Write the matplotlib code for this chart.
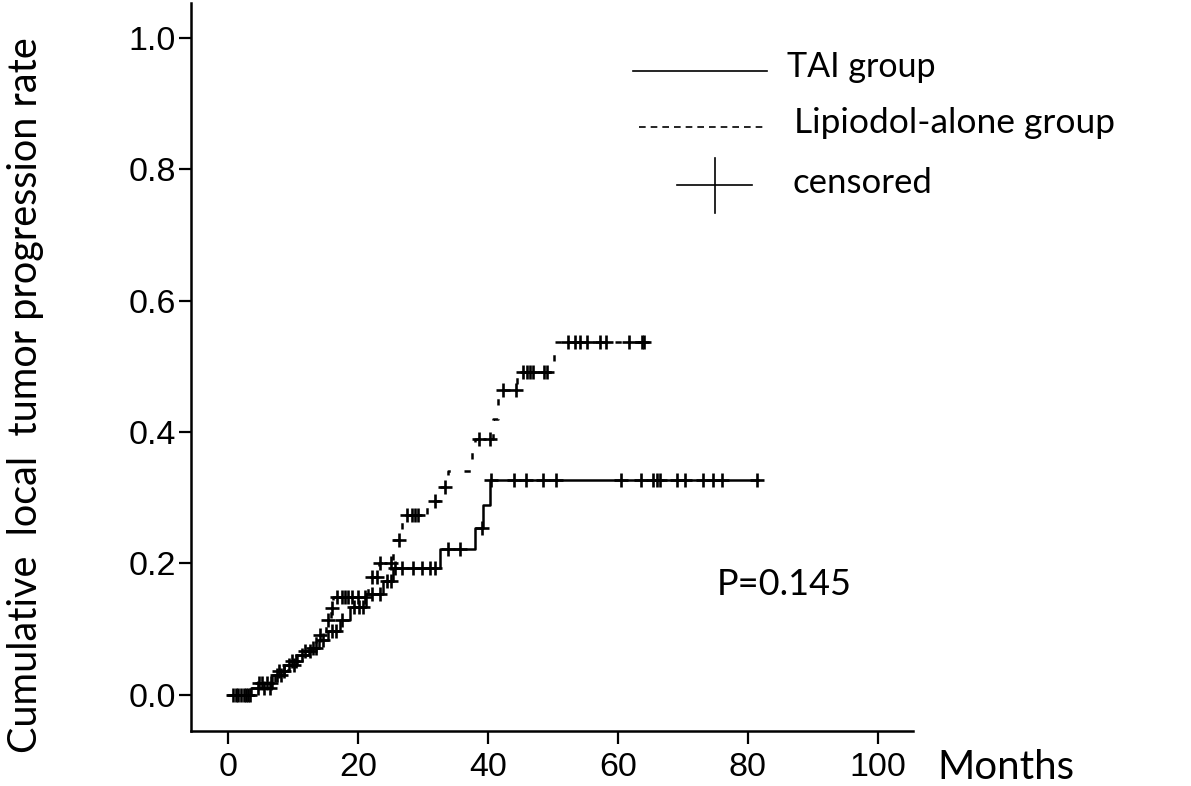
import numpy as np
import matplotlib
matplotlib.use("Agg")
import matplotlib.pyplot as plt
from matplotlib.lines import Line2D

W, H = 1191, 786

# step points (time in months, cumulative rate after that time)
tai_times = [0, 3.6, 6.8, 8.6, 10.6, 12.4, 14.0, 15.4, 17.2, 18.8, 21.2,
             23.8, 25.4, 32.6, 38.0, 39.3, 40.3]
tai_rates = [0.0, 0.011, 0.030, 0.045, 0.060, 0.072, 0.084, 0.097, 0.114,
             0.134, 0.153, 0.173, 0.193, 0.222, 0.254, 0.289, 0.327]
tai_end = 81.5
tai_censored = [0.8, 1.6, 2.4, 3.0, 4.6, 5.6, 6.4, 7.6, 8.2, 9.4, 10.2, 11.4,
                13.0, 13.6, 14.6, 16.0, 16.6, 17.6, 19.4, 20.2, 20.8, 22.2,
                23.4, 24.4, 25.0, 25.7, 26.8, 28.5, 29.8, 31.1, 31.8, 33.8,
                35.7, 39.1, 40.5, 44.0, 45.8, 48.5, 50.5, 60.5, 63.5, 65.4,
                66.0, 66.5, 69.1, 70.3, 73.1, 74.6, 76.0, 81.4]

lip_times = [0, 4.4, 7.2, 9.2, 11.0, 13.6, 15.0, 15.8, 16.2, 21.6, 22.0, 23.2,
             25.4, 26.8, 30.6, 32.4, 33.8, 37.6, 38.0, 40.8, 41.6, 44.5, 50.2]
lip_rates = [0.0, 0.018, 0.037, 0.052, 0.067, 0.091, 0.114, 0.132, 0.149,
             0.165, 0.180, 0.200, 0.236, 0.274, 0.295, 0.317, 0.341, 0.370,
             0.390, 0.420, 0.464, 0.492, 0.537]
lip_end = 64.8
lip_censored = [1.2, 2.0, 2.8, 3.4, 4.8, 5.2, 6.0, 6.6, 7.8, 8.6, 9.8, 10.4,
                11.8, 12.6, 14.2, 15.4, 16.0, 16.8, 17.5, 18.0, 18.5, 19.1,
                20.0, 21.0, 22.2, 22.9, 23.4, 25.0, 26.3, 27.5, 28.3, 28.8,
                29.2, 31.8, 33.4, 38.6, 40.3, 42.3, 44.3, 45.4, 46.0, 46.5,
                46.9, 48.6, 49.1, 52.3, 53.4, 54.2, 55.2, 57.2, 58.2, 61.7,
                63.7, 64.0]

x_ticks = [0, 20, 40, 60, 80, 100]
y_ticks = [0.0, 0.2, 0.4, 0.6, 0.8, 1.0]

TEXT_FONT = ["Lato", "DejaVu Sans"]
TICK_FONT = ["Liberation Sans", "DejaVu Sans"]


def fx(px):
    return px / W


def fy(py):
    return 1 - py / H


def step_value(times, rates, t):
    i = np.searchsorted(times, t, side="right") - 1
    return np.array(rates)[i]


fig = plt.figure(figsize=(W / 100, H / 100), dpi=100)
ax = fig.add_axes([fx(191), fy(731), fx(913) - fx(191), fy(3) - fy(731)])

# curves
for times, rates, end, cens, ls in [
    (tai_times, tai_rates, tai_end, tai_censored, "-"),
    (lip_times, lip_rates, lip_end, lip_censored, (0, (2.5, 5.5))),
]:
    xs = list(times) + [end]
    ys = list(rates) + [rates[-1]]
    ax.step(xs, ys, where="post", color="black", lw=1.8, linestyle=ls)
    cy = step_value(times, rates, np.array(cens))
    ax.plot(cens, cy, linestyle="none", marker="+", color="black",
            markersize=10, markeredgewidth=1.9)

ax.set_xlim(-5.7, 105.4)
ax.set_ylim(-0.055, 1.053)
ax.set_xticks(x_ticks)
ax.set_yticks(y_ticks)
ax.set_xticklabels([str(t) for t in x_ticks])
ax.set_yticklabels([f"{t:.1f}" for t in y_ticks])

for s in ["top", "right"]:
    ax.spines[s].set_visible(False)
for s in ["left", "bottom"]:
    ax.spines[s].set_linewidth(1.8)

ax.tick_params(axis="both", direction="out", length=9, width=1.6,
               labelsize=24.5)
ax.tick_params(axis="y", pad=2)
ax.tick_params(axis="x", pad=6)
for lab in ax.get_xticklabels() + ax.get_yticklabels():
    lab.set_family(TICK_FONT)

# axis titles
fig.text(fx(26), fy(395), "Cumulative  local  tumor progression rate",
         rotation=90, ha="center", va="center", fontsize=28.5,
         family=TEXT_FONT)
fig.text(fx(937), fy(779), "Months", ha="left", va="baseline",
         fontsize=29, family=TEXT_FONT)
fig.text(fx(717), fy(595), "P=0.145", ha="left", va="baseline",
         fontsize=26, family=TEXT_FONT)

# legend drawn by hand
fig.add_artist(Line2D([fx(633), fx(767)], [fy(71), fy(71)], color="black",
                      lw=1.2))
fig.add_artist(Line2D([fx(639), fx(767)], [fy(127), fy(127)], color="black",
                      lw=1.2, linestyle=(0, (4, 3))))
fig.add_artist(Line2D([fx(677), fx(752)], [fy(185), fy(185)], color="black",
                      lw=1.2))
fig.add_artist(Line2D([fx(715), fx(715)], [fy(158), fy(213)], color="black",
                      lw=1.2))
fig.text(fx(787), fy(77), "TAI group", ha="left", va="baseline",
         fontsize=24.5, family=TEXT_FONT)
fig.text(fx(794), fy(133), "Lipiodol-alone group", ha="left",
         va="baseline", fontsize=25.5, family=TEXT_FONT)
fig.text(fx(793), fy(193), "censored", ha="left", va="baseline",
         fontsize=25, family=TEXT_FONT)

fig.savefig("out.png", dpi=100)
plt.close(fig)
